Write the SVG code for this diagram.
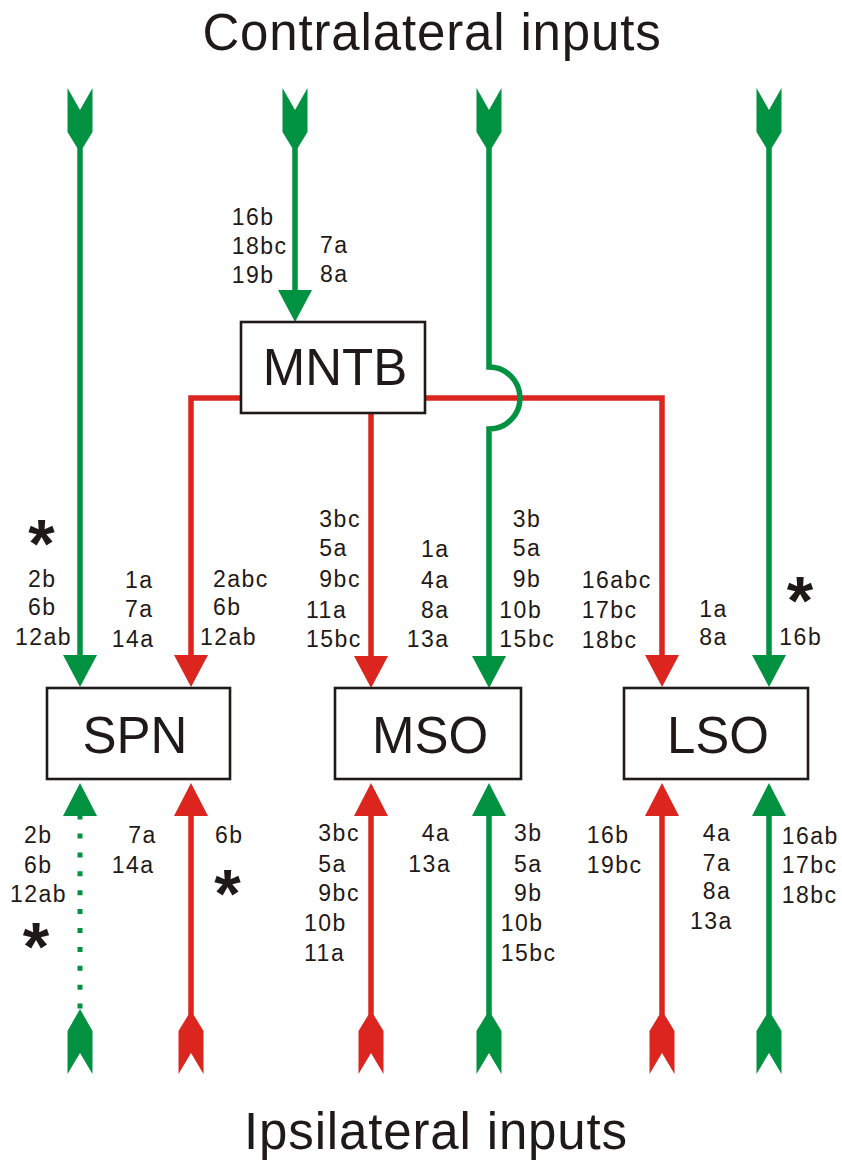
<svg xmlns="http://www.w3.org/2000/svg" width="842" height="1162" viewBox="0 0 842 1162">
<style>
.g{stroke:#009240;stroke-width:5.5;fill:none}
.r{stroke:#DC251E;stroke-width:5.5;fill:none;stroke-linejoin:miter}
.gf{fill:#009240}
.rf{fill:#DC251E}
.box{fill:#fff;stroke:#1f1a17;stroke-width:2.6}
.lab{font-family:"Liberation Sans",Arial,sans-serif;font-size:23px;letter-spacing:1.5px;fill:#1f1a17}
.big{font-family:"Liberation Sans",Arial,sans-serif;font-size:51px;fill:#1f1a17;text-anchor:middle}
.ttl{font-family:"Liberation Sans",Arial,sans-serif;font-size:51px;letter-spacing:0.85px;fill:#1f1a17;text-anchor:middle}
.ast{font-family:"Liberation Sans",Arial,sans-serif;font-size:68px;font-weight:bold;fill:#1f1a17;text-anchor:middle}
</style>
<defs>
<polygon id="ttail" points="-12.5,88 0,110 12.5,88 12.5,132 2.75,148 -2.75,148 -12.5,132"/>
<polygon id="btail" points="-2.75,1015 2.75,1015 12.5,1031 12.5,1074 0,1053 -12.5,1074 -12.5,1031"/>
<polygon id="down" points="-17,0 17,0 0,32"/>
<polygon id="up" points="-17,0 17,0 0,-33"/>
</defs>
<rect width="842" height="1162" fill="#fff"/>
<text class="ttl" x="432" y="50">Contralateral inputs</text>
<text class="ttl" x="436" y="1149">Ipsilateral inputs</text>
<g id="connectors">
<path class="r" d="M241,398 H191 V656"/>
<path class="r" d="M371,413 V657"/>
<path class="r" d="M425,398 H662 V656"/>
<line class="g" x1="80" y1="140" x2="80" y2="656"/>
<line class="g" x1="295" y1="140" x2="295" y2="291"/>
<path class="g" d="M489,140 V367 A31,31 0 0 1 489,429 V657"/>
<line class="g" x1="769" y1="140" x2="769" y2="656"/>
<use href="#ttail" x="80" class="gf"/>
<use href="#ttail" x="295" class="gf"/>
<use href="#ttail" x="489" class="gf"/>
<use href="#ttail" x="769" class="gf"/>
<use href="#down" x="80" y="655" class="gf"/>
<use href="#down" x="191" y="655" class="rf"/>
<use href="#down" x="295" y="290" class="gf"/>
<use href="#down" x="371" y="656" class="rf"/>
<use href="#down" x="489" y="656" class="gf"/>
<use href="#down" x="662" y="655" class="rf"/>
<use href="#down" x="769" y="655" class="gf"/>
<line x1="80" y1="814.6" x2="80" y2="1008.6" stroke="#009240" stroke-width="5" stroke-dasharray="5 13.9"/>
<line class="r" x1="191" y1="812" x2="191" y2="1022"/>
<line class="r" x1="371" y1="812" x2="371" y2="1022"/>
<line class="g" x1="489" y1="812" x2="489" y2="1022"/>
<line class="r" x1="662" y1="812" x2="662" y2="1022"/>
<line class="g" x1="769" y1="812" x2="769" y2="1022"/>
<polygon class="gf" points="80,1009 92.5,1031 92.5,1074 80,1053 67.5,1074 67.5,1031"/>
<use href="#btail" x="191" class="rf"/>
<use href="#btail" x="371" class="rf"/>
<use href="#btail" x="489" class="gf"/>
<use href="#btail" x="662" class="rf"/>
<use href="#btail" x="769" class="gf"/>
<use href="#up" x="80" y="816" class="gf"/>
<use href="#up" x="191" y="816" class="rf"/>
<use href="#up" x="371" y="816" class="rf"/>
<use href="#up" x="489" y="816" class="gf"/>
<use href="#up" x="662" y="816" class="rf"/>
<use href="#up" x="769" y="816" class="gf"/>
</g>
<g id="MNTB">
<rect class="box" x="241" y="322" width="184" height="91"/>
<text class="big" x="335" y="385">MNTB</text>
</g>
<g id="SPN">
<rect class="box" x="47" y="688" width="183" height="91"/>
<text class="big" x="135" y="752.7">SPN</text>
</g>
<g id="MSO">
<rect class="box" x="335" y="688" width="186" height="91"/>
<text class="big" x="430" y="752.7">MSO</text>
</g>
<g id="LSO">
<rect class="box" x="624" y="688" width="184" height="91"/>
<text class="big" x="718" y="752.7">LSO</text>
</g>
<g id="labels">
<text class="lab" x="231.7" y="225">16b</text>
<text class="lab" x="231.7" y="254">18bc</text>
<text class="lab" x="231.7" y="283">19b</text>
<text class="lab" x="320" y="252.7">7a</text>
<text class="lab" x="320" y="281.7">8a</text>

<text class="lab" x="28" y="586.7">2b</text>
<text class="lab" x="28" y="615">6b</text>
<text class="lab" x="15" y="645">12ab</text>
<text class="lab" x="125" y="588">1a</text>
<text class="lab" x="125" y="616.7">7a</text>
<text class="lab" x="111.7" y="646.7">14a</text>
<text class="lab" x="213" y="586.7">2abc</text>
<text class="lab" x="213" y="615">6b</text>
<text class="lab" x="200" y="645">12ab</text>

<text class="lab" x="319.3" y="526.7">3bc</text>
<text class="lab" x="319.3" y="556">5a</text>
<text class="lab" x="319.3" y="586.7">9bc</text>
<text class="lab" x="306" y="617.7">11a</text>
<text class="lab" x="306" y="646.7">15bc</text>
<text class="lab" x="421" y="556.7">1a</text>
<text class="lab" x="421" y="588">4a</text>
<text class="lab" x="421" y="618">8a</text>
<text class="lab" x="406.7" y="646.7">13a</text>
<text class="lab" x="512.7" y="526.7">3b</text>
<text class="lab" x="512.7" y="556">5a</text>
<text class="lab" x="512.7" y="586.7">9b</text>
<text class="lab" x="499.3" y="617.7">10b</text>
<text class="lab" x="499.3" y="646.7">15bc</text>

<text class="lab" x="581.7" y="588.3">16abc</text>
<text class="lab" x="581.7" y="618.3">17bc</text>
<text class="lab" x="581.7" y="648.3">18bc</text>
<text class="lab" x="699.3" y="616.7">1a</text>
<text class="lab" x="699.3" y="645">8a</text>
<text class="lab" x="779.3" y="645">16b</text>

<text class="lab" x="24" y="842.7">2b</text>
<text class="lab" x="24" y="872.7">6b</text>
<text class="lab" x="10" y="901.7">12ab</text>
<text class="lab" x="128.3" y="842.7">7a</text>
<text class="lab" x="111.7" y="872.7">14a</text>
<text class="lab" x="215" y="842.7">6b</text>

<text class="lab" x="318.3" y="840.7">3bc</text>
<text class="lab" x="318.3" y="871.7">5a</text>
<text class="lab" x="318.3" y="900.7">9bc</text>
<text class="lab" x="304" y="930.7">10b</text>
<text class="lab" x="304" y="960.7">11a</text>
<text class="lab" x="421.7" y="840.7">4a</text>
<text class="lab" x="408.3" y="871.7">13a</text>
<text class="lab" x="514" y="840.7">3b</text>
<text class="lab" x="514" y="871.7">5a</text>
<text class="lab" x="514" y="900.7">9b</text>
<text class="lab" x="500.7" y="930.7">10b</text>
<text class="lab" x="500.7" y="960.7">15bc</text>

<text class="lab" x="586.7" y="843.3">16b</text>
<text class="lab" x="586.7" y="872.7">19bc</text>
<text class="lab" x="702.7" y="840.7">4a</text>
<text class="lab" x="702.7" y="870.7">7a</text>
<text class="lab" x="702.7" y="899.3">8a</text>
<text class="lab" x="690" y="929.3">13a</text>
<text class="lab" x="781.7" y="844">16ab</text>
<text class="lab" x="781.7" y="873.3">17bc</text>
<text class="lab" x="781.7" y="903.3">18bc</text>

<text class="ast" x="41.5" y="567">*</text>
<text class="ast" x="800" y="624">*</text>
<text class="ast" x="36" y="970">*</text>
<text class="ast" x="227.5" y="917">*</text>
</g>
</svg>
